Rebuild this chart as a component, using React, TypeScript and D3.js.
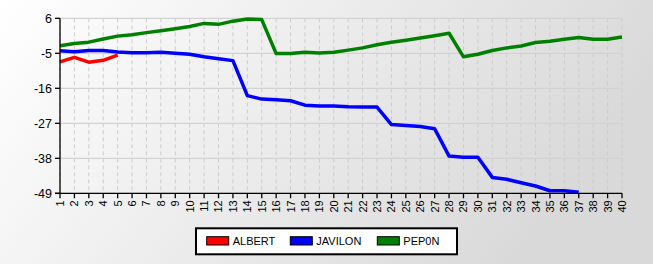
import React from "react";
import * as d3 from "d3";

const categories: number[] = Array.from({ length: 40 }, (_, i) => i + 1);
const yTicks = [6, -5, -16, -27, -38, -49];
const seriesNames = ["ALBERT", "JAVILON", "PEP0N"];
const seriesColors = ["#ff0000", "#0000ff", "#008000"];
const albert = [-7.7, -6.3, -7.8, -7.2, -5.6];
const javilon = [-4.2, -4.5, -4.1, -4.1, -4.6, -4.8, -4.8, -4.7, -5.0, -5.3, -6.1, -6.7, -7.3, -18.3, -19.4, -19.6, -19.9, -21.3, -21.6, -21.6, -21.8, -21.9, -21.9, -27.4, -27.7, -28.0, -28.7, -37.3, -37.7, -37.7, -44.0, -44.6, -45.7, -46.7, -48.2, -48.2, -48.7];
const pepon = [-2.6, -1.9, -1.5, -0.5, 0.4, 0.85, 1.5, 2.1, 2.7, 3.4, 4.4, 4.1, 5.1, 5.8, 5.6, -5.1, -5.1, -4.7, -4.9, -4.7, -4.0, -3.3, -2.3, -1.5, -0.9, -0.2, 0.5, 1.3, -6.1, -5.3, -4.1, -3.3, -2.7, -1.6, -1.2, -0.6, 0.0, -0.6, -0.6, 0.1];
const seriesData = [albert, javilon, pepon];

const W = 653, H = 264;
const L = 60, R = 622, T = 18.3, B = 193.3;

export default function App() {
  const x = d3.scaleLinear().domain([1, 40]).range([L, R]);
  const y = d3.scaleLinear().domain([-49, 6]).range([B, T]);
  const line = d3.line<number>().x((_, i) => x(categories[i])).y((d) => y(d));
  const legendX = [206.7, 290.3, 377.3];
  return (
    <svg width={W} height={H} style={{ position: "absolute", left: 0, top: 0, display: "block" }} fontFamily="'Liberation Sans', Arial, sans-serif">
      <defs>
        <linearGradient id="bg" x1="0" y1="0" x2="1" y2="0.3">
          <stop offset="0" stopColor="#ffffff" />
          <stop offset="1" stopColor="#d9d9d9" />
        </linearGradient>
      </defs>
      <rect x={0} y={0} width={W} height={H} fill="url(#bg)" />
      {categories.map((c) => (
        <line key={"vg" + c} x1={x(c)} x2={x(c)} y1={T} y2={B} stroke="#cccccc" strokeDasharray="4,3" strokeWidth={1} />
      ))}
      {yTicks.map((t) => (
        <line key={"hg" + t} x1={L} x2={R} y1={y(t)} y2={y(t)} stroke="#d2d2d2" strokeWidth={1.2} />
      ))}
      {seriesData.map((s, i) => (
        <path key={"s" + i} d={line(s) || ""} fill="none" stroke={seriesColors[i]} strokeWidth={3.5} strokeLinejoin="round" />
      ))}
      <line x1={L} x2={L} y1={T} y2={B} stroke="#000" strokeWidth={1.3} />
      <line x1={L - 5} x2={R} y1={B} y2={B} stroke="#000" strokeWidth={1.3} />
      {yTicks.map((t) => (
        <g key={"yt" + t}>
          <line x1={L - 5} x2={L} y1={y(t)} y2={y(t)} stroke="#000" strokeWidth={1.3} />
          <text x={52} y={y(t)} dy="0.36em" textAnchor="end" fontSize={12.5} fill="#000">{t}</text>
        </g>
      ))}
      {categories.map((c) => (
        <g key={"xt" + c}>
          <line x1={x(c)} x2={x(c)} y1={B} y2={B + 5} stroke="#000" strokeWidth={1.3} />
          <text transform={`translate(${x(c)},${B + 7}) rotate(-90)`} textAnchor="end" dy="0.36em" fontSize={11} fill="#000">{c}</text>
        </g>
      ))}
      <rect x={196} y={228.3} width={261} height={26} fill="#fff" stroke="#000" strokeWidth={2} />
      {seriesNames.map((n, i) => (
        <g key={"lg" + n}>
          <rect x={legendX[i]} y={236.7} width={22} height={8.3} fill={seriesColors[i]} stroke="#000" strokeWidth={1} />
          <text x={legendX[i] + 26} y={241} dy="0.36em" fontSize={11} fill="#000">{n}</text>
        </g>
      ))}
    </svg>
  );
}
